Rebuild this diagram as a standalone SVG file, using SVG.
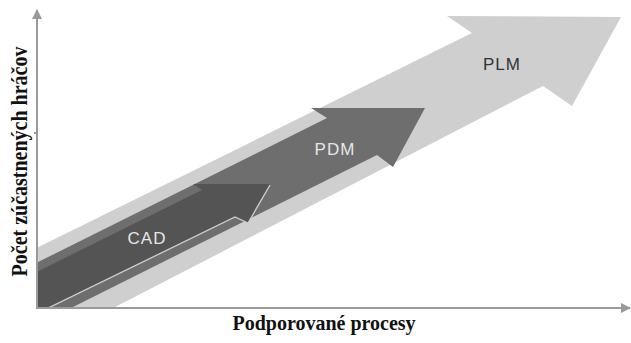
<svg xmlns="http://www.w3.org/2000/svg" width="631" height="343" viewBox="0 0 631 343">
<style>
.axis{stroke:#9a9a9a;stroke-width:2;fill:none}
.lbl{font-family:"Liberation Sans",Arial,sans-serif;font-size:17px;text-anchor:middle;letter-spacing:1px}
.ax{font-family:"Liberation Serif","Times New Roman",serif;font-size:20px;font-weight:bold;fill:#111;text-anchor:middle}
</style>
<defs>
<clipPath id="plot"><rect x="37" y="0" width="594" height="307"/></clipPath>
<marker id="ah" viewBox="0 0 10 10" refX="9" refY="5" markerWidth="5" markerHeight="5" orient="auto" markerUnits="strokeWidth">
<path d="M0,0 L10,5 L0,10 z" fill="#9a9a9a"/>
</marker>
</defs>
<rect width="631" height="343" fill="#fff"/>
<g id="arrows" clip-path="url(#plot)">
<g id="plm">
<polygon points="0,266 472,33 447,16 621,17 572,106 543,86 32,350 0,350" fill="#cfcfcf"/>
<text class="lbl" x="502" y="70" fill="#333">PLM</text>
</g>
<g id="pdm">
<polygon points="-20,291 327,118 311,108 425,108 393,167 377,155 -13,350" fill="#6e6e6e"/>
<text class="lbl" x="335" y="155" fill="#e6e6e6">PDM</text>
</g>
<g id="cad">
<polygon points="-20,300 202,190 193,184 270,184 248,223 235,217 -40,351" fill="#545454"/>
<polyline points="270,185 248,223 235,217 40,312" fill="none" stroke="#cfcfcf" stroke-width="1.3"/>
<text class="lbl" x="147" y="244" fill="#e6e6e6">CAD</text>
</g>
</g>
<g id="connectors">
<line class="axis" x1="37" y1="308" x2="37" y2="10" marker-end="url(#ah)"/>
<line class="axis" x1="36" y1="308" x2="630" y2="308" marker-end="url(#ah)"/>
<line class="axis" x1="34" y1="133" x2="37" y2="133" stroke-width="1.5"/>
</g>
<g id="labels">
<text class="ax" x="324" y="330">Podporované procesy</text>
<text class="ax" transform="translate(27,161.5) scale(1.15,1) rotate(-90)" x="0" y="0">Počet zúčastnených hráčov</text>
</g>
</svg>
